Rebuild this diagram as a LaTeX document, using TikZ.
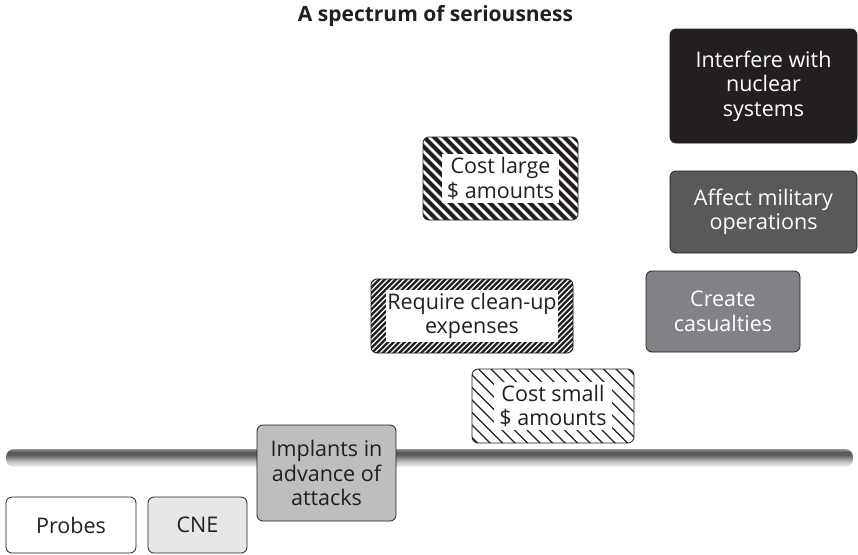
\documentclass[tikz,border=0pt]{standalone}
\usepackage{fontspec}
\setmainfont{Open Sans}
\definecolor{ink}{HTML}{231F20}
\definecolor{gA}{HTML}{58595B}
\definecolor{gB}{HTML}{808285}
\definecolor{gC}{HTML}{BCBEC0}
\definecolor{gD}{HTML}{E6E7E8}
\pgfdeclareverticalshading{barshade}{100bp}{color(0bp)=(black!3); color(25bp)=(black!3); color(40bp)=(black!25); color(58bp)=(black!62); color(66bp)=(black!66); color(75bp)=(black!42); color(100bp)=(black!42)}
\newcommand{\bodyfont}{\fontsize{21.5}{24.5}\selectfont}
\begin{document}
\begin{tikzpicture}[x=1pt,y=-1pt,
  box/.style={draw=ink, line width=0.8pt, rounded corners=6pt, inner sep=0pt},
  lbl/.style={align=center, font=\bodyfont, text=ink, inner sep=0pt},
  wlbl/.style={lbl, text=white},
  patch/.style={lbl, fill=white, inner xsep=5pt, inner ysep=3pt},
  bigstripes/.style={fill=ink, path picture={\foreach \k in {-40,...,40}{\draw[white,line width=2.8pt] ([xshift=\k*10pt]path picture bounding box.center) ++(-120pt,120pt) -- ++(240pt,-240pt);}}},
  finestripes/.style={fill=ink, path picture={\foreach \k in {-80,...,80}{\draw[white,line width=1.3pt] ([xshift=\k*5.5pt]path picture bounding box.center) ++(-120pt,-120pt) -- ++(240pt,240pt);}}},
  thinstripes/.style={fill=white, path picture={\foreach \k in {-35,...,35}{\draw[ink,line width=1.1pt] ([xshift=\k*12.5pt]path picture bounding box.center) ++(-120pt,120pt) -- ++(240pt,-240pt);}}},
  barstyle/.style={shading=barshade, rounded corners=8pt, inner sep=0pt}
]
\useasboundingbox (0,0) rectangle (858,554);

\node[font=\fontsize{21}{24}\selectfont\bfseries, text=ink, anchor=base] (title) at (435.5,21) {A spectrum of seriousness};

\node[barstyle, minimum width=847pt, minimum height=18pt] (bar) at (429.5,458) {};

% right column
\node[box, fill=ink, minimum width=187pt, minimum height=114pt] (nuke) at (763.5,86) {};
\node[wlbl] (nuket) at (nuke) {Interfere with\\nuclear\\systems};

\node[box, fill=gA, minimum width=187pt, minimum height=82pt] (mil) at (763.5,212) {};
\node[wlbl] (milt) at (mil) {Affect military\\operations};

\node[box, fill=gB, minimum width=154pt, minimum height=81pt] (cas) at (723,311.5) {};
\node[wlbl] (cast) at (cas) {Create\\casualties};

% striped boxes
\node[box, bigstripes, minimum width=155pt, minimum height=83pt] (large) at (500.5,178.5) {};
\node[patch] (larget) at (large) {Cost large\\\$ amounts};

\node[box, finestripes, minimum width=202pt, minimum height=74pt] (clean) at (472,316) {};
\node[patch, inner xsep=1pt] (cleant) at (clean) {Require clean-up\\expenses};

\node[box, thinstripes, minimum width=162pt, minimum height=74pt] (small) at (553,406) {};
\node[patch] (smallt) at (small) {Cost small\\\$ amounts};

% lower boxes
\node[box, fill=gC, minimum width=139pt, minimum height=96pt] (impl) at (326.5,473) {};
\node[lbl] (implt) at (impl) {Implants in\\advance of\\attacks};

\node[box, fill=white, minimum width=130pt, minimum height=56pt] (probes) at (71,525) {};
\node[lbl] (probest) at (probes) {Probes};

\node[box, fill=gD, minimum width=99pt, minimum height=56pt] (cne) at (197.5,525) {};
\node[lbl] (cnet) at (cne) {CNE};
\end{tikzpicture}
\end{document}
